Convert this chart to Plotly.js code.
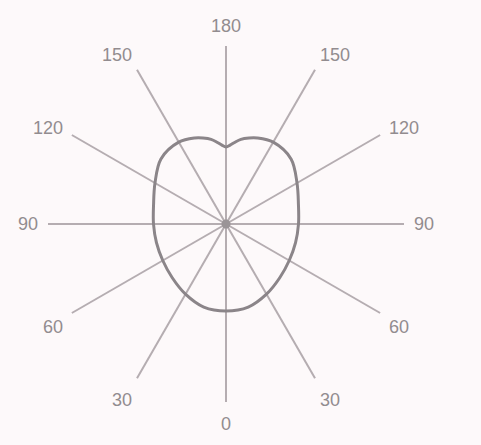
<!DOCTYPE html>
<html>
<head>
<meta charset="utf-8">
<script src="https://cdn.plot.ly/plotly-3.0.1.min.js"></script>
<style>
html,body{margin:0;padding:0;background:#fdf9fa;}
#chart{width:481px;height:445px;}
</style>
</head>
<body>
<div id="chart"></div>
<script>
// Angle measured from the bottom (0) going round; labels mirror on both sides
const angles = [0, 15, 30, 45, 60, 75, 90, 105, 120, 135, 150, 160, 165, 170, 174, 177, 180,
                183, 186, 190, 195, 200, 210, 225, 240, 255, 270, 285, 300, 315, 330, 345, 360];
const radii  = [87, 86, 81, 76, 73, 72, 72.5, 75, 82, 92, 94.5, 91.5, 89, 86, 82, 79, 77,
                79, 82, 86, 89, 91.5, 94.5, 92, 82, 75, 72.5, 72, 73, 76, 81, 86, 87];
const tickVals = [0, 30, 60, 90, 120, 150, 180, 210, 240, 270, 300, 330];
const tickText = ['0', '30', '60', '90', '120', '150', '180', '150', '120', '90', '60', '30'];
const rMax = 178;

const traces = [
  {
    type: 'scatterpolar',
    mode: 'lines',
    r: radii,
    theta: angles,
    line: {color: '#8b8589', width: 3, shape: 'spline', smoothing: 1},
    hoverinfo: 'skip'
  },
  {
    type: 'scatterpolar',
    mode: 'markers',
    r: [0],
    theta: [0],
    marker: {color: '#9a9497', size: 9},
    hoverinfo: 'skip'
  }
];

const layout = {
  width: 481,
  height: 445,
  margin: {l: 48, r: 77, t: 46, b: 43},
  paper_bgcolor: '#fdf9fa',
  showlegend: false,
  polar: {
    bgcolor: 'rgba(0,0,0,0)',
    domain: {x: [0, 1], y: [0, 1]},
    radialaxis: {
      range: [0, rMax],
      visible: false,
      showgrid: false
    },
    angularaxis: {
      rotation: -90,
      direction: 'counterclockwise',
      tickmode: 'array',
      tickvals: tickVals,
      ticktext: tickText,
      ticks: 'outside',
      ticklen: 6,
      tickcolor: 'rgba(0,0,0,0)',
      showline: false,
      showgrid: true,
      gridcolor: '#b5adb1',
      gridwidth: 2,
      tickfont: {family: 'Liberation Sans, Arial, sans-serif', size: 18, color: '#928c8f'}
    }
  }
};

Plotly.newPlot('chart', traces, layout, {displayModeBar: false, staticPlot: true});
</script>
</body>
</html>
